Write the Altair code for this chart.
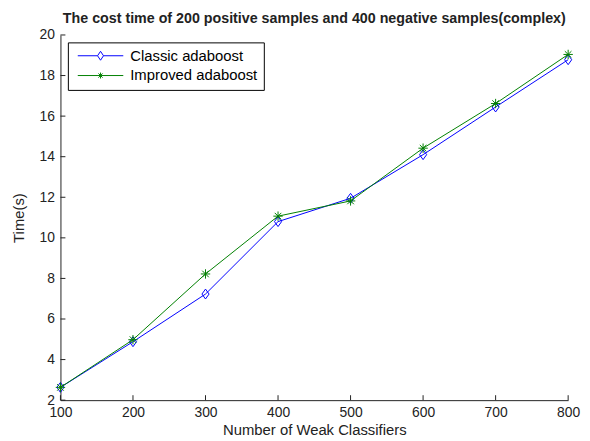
import altair as alt
import pandas as pd

# data
classifiers = [100, 200, 300, 400, 500, 600, 700, 800]
classic = [2.63, 4.88, 7.23, 10.8, 11.95, 14.1, 16.45, 18.78]
improved = [2.63, 4.98, 8.22, 11.07, 11.82, 14.42, 16.62, 19.04]
series_names = ["Classic adaboost", "Improved adaboost"]
series_colors = ["#0000ff", "#008000"]
x_ticks = [100, 200, 300, 400, 500, 600, 700, 800]
y_ticks = [2, 4, 6, 8, 10, 12, 14, 16, 18, 20]

FONT = "Liberation Sans"
W, H = 513, 369

rows = []
for xv, a, b in zip(classifiers, classic, improved):
    rows.append({"x": xv, "time": a, "series": series_names[0]})
    rows.append({"x": xv, "time": b, "series": series_names[1]})
df = pd.DataFrame(rows)

diamond = "M0,-1L0.72,0L0,1L-0.72,0Z"
star = "M-1,0L1,0M0,-1L0,1M-0.7,-0.7L0.7,0.7M-0.7,0.7L0.7,-0.7"
leg_diamond = ("M-0.5,0L2.356,0M3.216,0L6.07,0"
               "M2.786,-0.643L3.216,0L2.786,0.643L2.356,0Z")
leg_star = ("M-0.5,0L6.07,0M2.786,-0.43L2.786,0.43"
            "M2.486,-0.3L3.086,0.3M2.486,0.3L3.086,-0.3")

xs = alt.Scale(domain=[100, 800], nice=False, zero=False)
ys = alt.Scale(domain=[2, 20], nice=False, zero=False)

x_axis = alt.Axis(values=x_ticks, format="d", ticks=False, labelPadding=6,
                  titlePadding=3, labelOverlap=False, labelFlush=False)
y_axis = alt.Axis(values=y_ticks, format="d", ticks=False, labelPadding=6,
                  titlePadding=13, labelOverlap=False, labelFlush=False)
X = alt.X("x:Q", scale=xs, title="Number of Weak Classifiers", axis=x_axis)
Y = alt.Y("time:Q", scale=ys, title="Time(s)", axis=y_axis)

base = alt.Chart(df)


def series_layers(name, color, shape, size):
    sub = base.transform_filter(alt.datum.series == name)
    ln = sub.mark_line(strokeWidth=1, color=color).encode(x=X, y=Y)
    pt = sub.mark_point(shape=shape, size=size, filled=False, strokeWidth=1,
                        opacity=1, color=color).encode(x=X, y=Y)
    return [ln, pt]


layers = []
layers += series_layers(series_names[0], series_colors[0], diamond, 100)
layers += series_layers(series_names[1], series_colors[1], star, 90)

leg = alt.Legend(orient="none", legendX=7.5, legendY=7.5,
                 symbolSize=196, symbolStrokeWidth=1,
                 labelFont=FONT, labelFontSize=15,
                 labelColor="#000", labelOffset=42,
                 padding=6, rowPadding=4,
                 strokeColor="#000", fillColor="#fff")

legend_layer = base.transform_filter("datum.time < 0").mark_point(
    filled=False, strokeWidth=1, opacity=1).encode(
    x=X, y=Y,
    color=alt.Color("series:N", scale=alt.Scale(domain=series_names, range=series_colors),
                    title=None, legend=leg),
    shape=alt.Shape("series:N", scale=alt.Scale(domain=series_names,
                                                range=[leg_diamond, leg_star]),
                    title=None, legend=leg))
layers.append(legend_layer)

tick_df = pd.DataFrame({"v": x_ticks})
ytick_df = pd.DataFrame({"v": y_ticks})
layers.append(alt.Chart(tick_df).mark_rule(color="#222", strokeWidth=1).encode(
    x=alt.X("v:Q", scale=xs, title="Number of Weak Classifiers", axis=x_axis),
    y=alt.value(H), y2=alt.value(H - 5)))
layers.append(alt.Chart(ytick_df).mark_rule(color="#222", strokeWidth=1).encode(
    y=alt.Y("v:Q", scale=ys, title="Time(s)", axis=y_axis),
    x=alt.value(0), x2=alt.value(5)))

chart = alt.layer(*layers).properties(
    width=W, height=H,
    autosize=alt.AutoSizeParams(type="none"),
    padding={"left": 53, "top": 25, "right": 14, "bottom": 37},
    title=alt.TitleParams(
        "The cost time of 200 positive samples and 400 negative samples(complex)",
        font=FONT, fontSize=14.4, fontWeight="bold", color="#222", offset=2,
        anchor="middle"),
).configure(background="white").configure_view(stroke="transparent").configure_axis(
    grid=False, domainColor="#222", domainWidth=1,
    labelFont=FONT, labelFontSize=14, labelColor="#222",
    titleFont=FONT, titleFontSize=15, titleColor="#222", titleFontWeight="normal",
)

chart.save("out.html", embed_options={"renderer": "svg", "actions": False})
